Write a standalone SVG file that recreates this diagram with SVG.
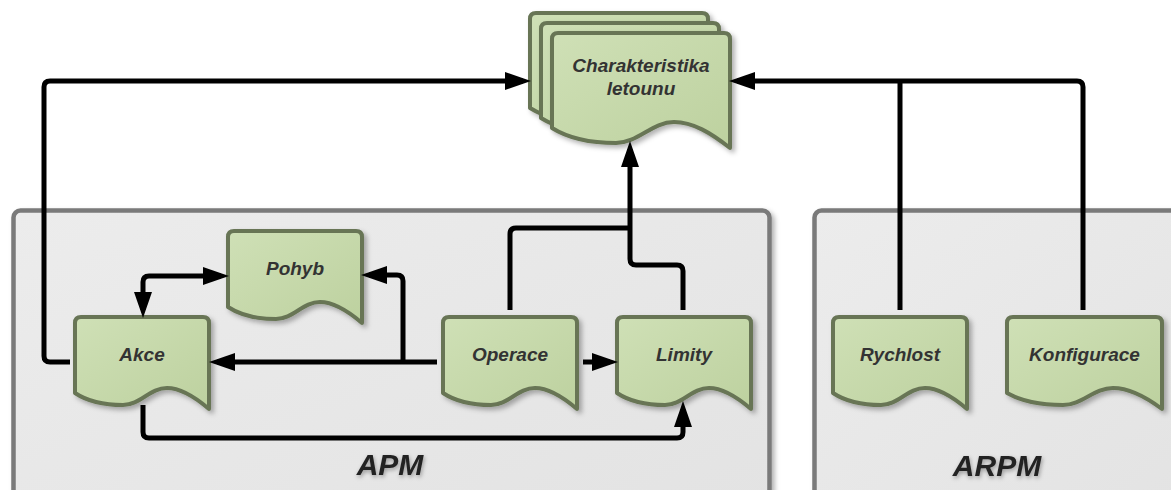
<svg xmlns="http://www.w3.org/2000/svg" width="1171" height="490" viewBox="0 0 1171 490">
<style>
.cont{fill:url(#cg);stroke:#7a7a7a;stroke-width:4.5;filter:url(#sh)}
.doc{fill:url(#ng);stroke:#677555;stroke-width:4;stroke-linejoin:round;filter:url(#sh)}
.lbl{font-family:"Liberation Sans",Arial,sans-serif;font-weight:bold;font-style:italic;font-size:19px;fill:#333;text-anchor:middle}
.big{font-family:"Liberation Sans",Arial,sans-serif;font-weight:bold;font-style:italic;font-size:30px;fill:#222;text-anchor:middle;filter:url(#tsh)}
.c{fill:none;stroke:#000;stroke-width:5;stroke-linejoin:round}
.a{marker-end:url(#ah)}
</style>
<defs>
<linearGradient id="ng" x1="0" y1="0" x2="1" y2="1">
<stop offset="0" stop-color="#cfe0b6"/>
<stop offset="1" stop-color="#bdd19f"/>
</linearGradient>
<linearGradient id="cg" x1="0" y1="0" x2="1" y2="1">
<stop offset="0" stop-color="#ececec"/>
<stop offset="1" stop-color="#e3e3e3"/>
</linearGradient>
<filter id="sh" x="-10%" y="-10%" width="130%" height="130%">
<feDropShadow dx="3" dy="3" stdDeviation="2.5" flood-color="#000" flood-opacity="0.3"/>
</filter>
<filter id="tsh" x="-20%" y="-30%" width="140%" height="160%">
<feDropShadow dx="1" dy="2" stdDeviation="2" flood-color="#000" flood-opacity="0.35"/>
</filter>
<marker id="ah" markerUnits="userSpaceOnUse" markerWidth="27" markerHeight="18" refX="18" refY="9" orient="auto-start-reverse" viewBox="0 0 27 18">
<path d="M0,0 L26,9 L0,18 Z" fill="#000"/>
</marker>
</defs>
<rect width="1171" height="490" fill="#fff"/>

<g id="APM">
<rect class="cont" x="13.5" y="210.5" width="756" height="300" rx="7"/>
<text class="big" x="390" y="475">APM</text>
</g>
<g id="ARPM">
<rect class="cont" x="814.5" y="210.5" width="380" height="300" rx="7"/>
<text class="big" x="997" y="476">ARPM</text>
</g>

<g id="Charakteristika">
<path class="doc" transform="translate(530,13)" d="M6,0 H172 Q178,0 178,6 V115 C159,100 141,89 122,89 C100,89 86,110 64,110 C37,110 16,105 0,95 V6 Q0,0 6,0 Z"/>
<path class="doc" transform="translate(541,23)" d="M6,0 H172 Q178,0 178,6 V115 C159,100 141,89 122,89 C100,89 86,110 64,110 C37,110 16,105 0,95 V6 Q0,0 6,0 Z"/>
<path class="doc" transform="translate(552,33)" d="M6,0 H172 Q178,0 178,6 V115 C159,100 141,89 122,89 C100,89 86,110 64,110 C37,110 16,105 0,95 V6 Q0,0 6,0 Z"/>
<text class="lbl" x="641" y="72">Charakteristika</text>
<text class="lbl" x="641" y="95">letounu</text>
</g>

<g id="Pohyb">
<path class="doc" transform="translate(228,231)" d="M6,0 H128 Q134,0 134,6 V92 C120,80 106,71 92,71 C75,71 65,88 48,88 C28,88 12,84 0,76 V6 Q0,0 6,0 Z"/>
<text class="lbl" x="295" y="275">Pohyb</text>
</g>
<g id="Akce">
<path class="doc" transform="translate(75,317)" d="M6,0 H128 Q134,0 134,6 V92 C120,80 106,71 92,71 C75,71 65,88 48,88 C28,88 12,84 0,76 V6 Q0,0 6,0 Z"/>
<text class="lbl" x="142" y="361">Akce</text>
</g>
<g id="Operace">
<path class="doc" transform="translate(443,317)" d="M6,0 H128 Q134,0 134,6 V92 C120,80 106,71 92,71 C75,71 65,88 48,88 C28,88 12,84 0,76 V6 Q0,0 6,0 Z"/>
<text class="lbl" x="510" y="361">Operace</text>
</g>
<g id="Limity">
<path class="doc" transform="translate(617,317)" d="M6,0 H128 Q134,0 134,6 V92 C120,80 106,71 92,71 C75,71 65,88 48,88 C28,88 12,84 0,76 V6 Q0,0 6,0 Z"/>
<text class="lbl" x="684" y="361">Limity</text>
</g>
<g id="Rychlost">
<path class="doc" transform="translate(833,317)" d="M6,0 H128 Q134,0 134,6 V92 C120,80 106,71 92,71 C75,71 65,88 48,88 C28,88 12,84 0,76 V6 Q0,0 6,0 Z"/>
<text class="lbl" x="900" y="361">Rychlost</text>
</g>
<g id="Konfigurace">
<path class="doc" transform="translate(1007,317)" d="M6,0 H149 Q155,0 155,6 V92 C139,80 123,71 106,71 C87,71 75,88 56,88 C32,88 14,84 0,76 V6 Q0,0 6,0 Z"/>
<text class="lbl" x="1084.5" y="361">Konfigurace</text>
</g>

<g id="connectors">
<path class="c a" d="M70,362 H50 Q44,362 44,356 V87 Q44,81 50,81 H523"/>
<path class="c" d="M900,310 V81"/>
<path class="c a" d="M1083,310 V87 Q1083,81 1077,81 H737"/>
<path class="c" d="M510,310 V234 Q510,228 516,228 H630"/>
<path class="c a" d="M683,310 V271 Q683,265 677,265 H636 Q630,265 630,259 V149"/>
<path class="c a" d="M437,362 H217"/>
<path class="c a" d="M403,362 V281 Q403,275 397,275 H369"/>
<path class="c a" d="M143,310 V282 Q143,276 149,276 H221" style="marker-start:url(#ah)"/>
<path class="c a" d="M143,405 V432 Q143,438 149,438 H677 Q683,438 683,432 V409"/>
<path class="c a" d="M583,362 H610"/>
</g>
</svg>
